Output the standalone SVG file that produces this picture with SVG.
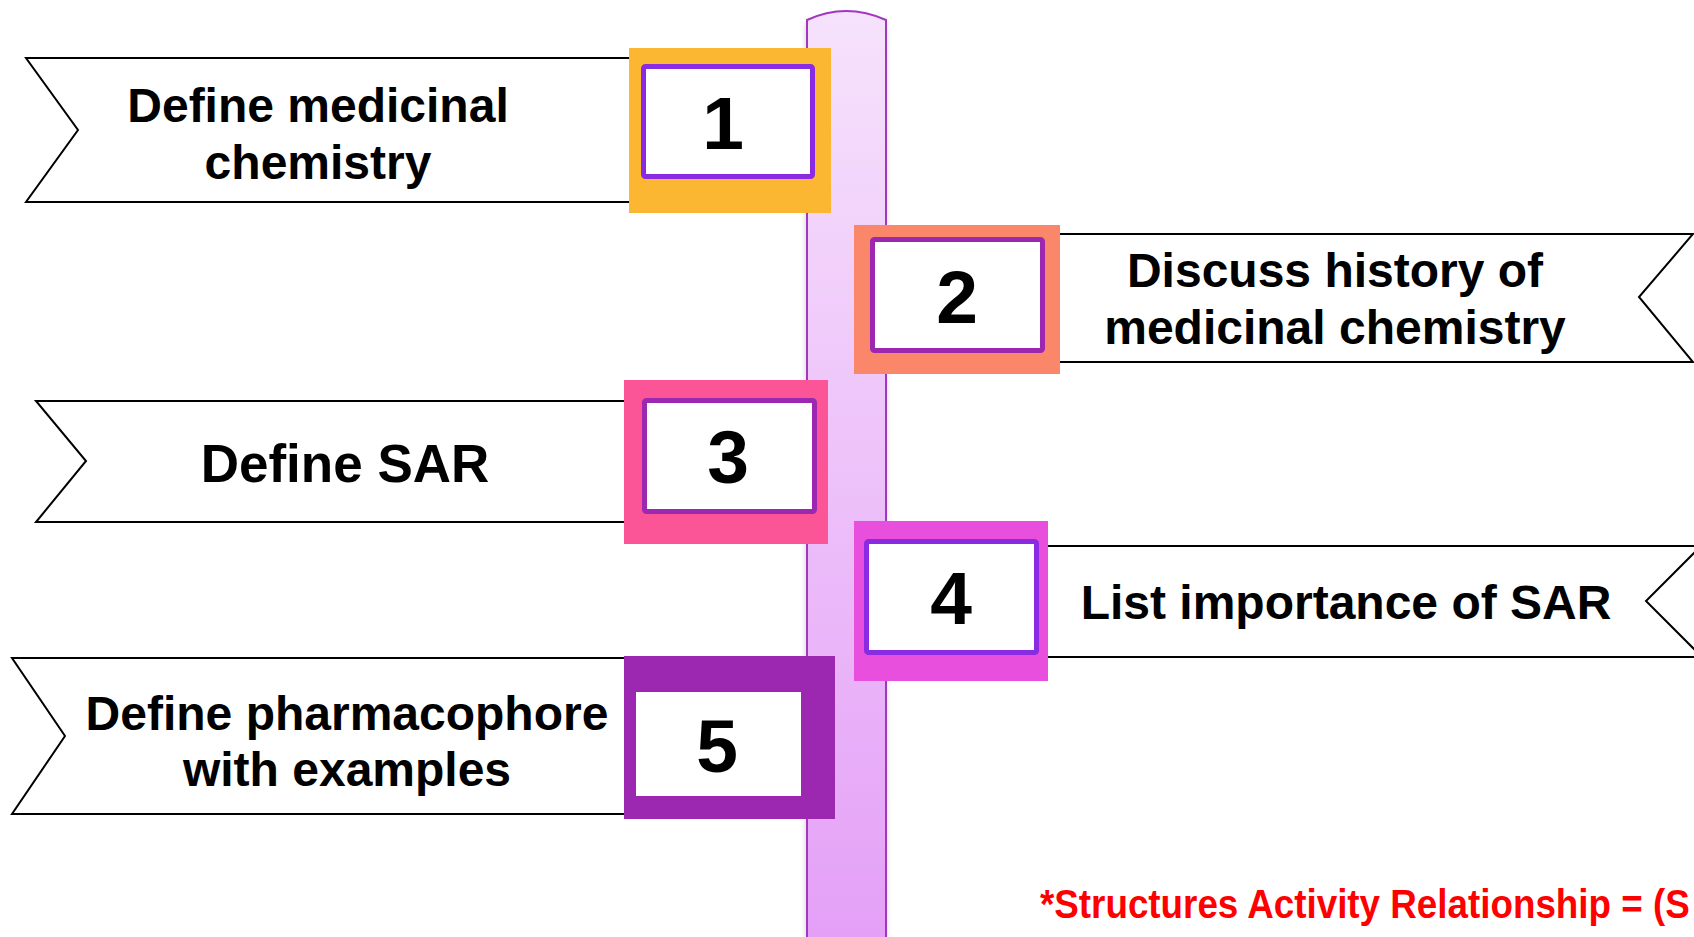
<svg xmlns="http://www.w3.org/2000/svg" width="1694" height="937" viewBox="0 0 1694 937">
<defs>
<linearGradient id="pillarGrad" x1="0" y1="0" x2="0" y2="1">
<stop offset="0" stop-color="#F6E2FC"/>
<stop offset="1" stop-color="#E4A0F7"/>
</linearGradient>
<filter id="shadow" x="-20%" y="-5%" width="140%" height="110%">
<feGaussianBlur stdDeviation="2.5"/>
</filter>
</defs>
<style>
.banner{fill:#FFFFFF;stroke:#000000;stroke-width:2;stroke-linejoin:miter}
.label{font-family:"Liberation Sans",Arial,sans-serif;font-weight:bold;font-size:48px;fill:#000000;text-anchor:middle}
.num{font-family:"Liberation Sans",Arial,sans-serif;font-weight:bold;font-size:75px;fill:#000000;text-anchor:middle}
.inner{fill:#FFFFFF;stroke-width:5}
.note{font-family:"Liberation Sans",Arial,sans-serif;font-weight:bold;font-size:40px;fill:#FF0000}
</style>
<rect width="1694" height="937" fill="#FFFFFF"/>
<g id="banners">
<g id="banner1"><polygon class="banner" points="26,58 700,58 700,202 26,202 78,130"/></g>
<g id="banner2"><polygon class="banner" points="1000,234 1693,234 1639,297 1693,362 1000,362"/></g>
<g id="banner3"><polygon class="banner" points="36,401 700,401 700,522 36,522 86,461"/></g>
<g id="banner4"><polygon class="banner" points="1000,546 1701,546 1646,601 1702,657 1000,657"/></g>
<g id="banner5"><polygon class="banner" points="12,658 700,658 700,814 12,814 65,736"/></g>
</g>
<g id="pillar">
<path d="M805,24 Q846,4 887,24 L887,940 L805,940 Z" fill="#999" opacity="0.35" filter="url(#shadow)"/>
<path d="M807,20 Q846,2 886,20 L886,940 L807,940 Z" fill="url(#pillarGrad)" stroke="#A236BE" stroke-width="2"/>
</g>
<g id="node1">
<rect x="629" y="48" width="202" height="165" fill="#FBB731"/>
<rect class="inner" x="643.5" y="66.5" width="169" height="110" rx="2" stroke="#8A2BE2"/>
<text class="num" x="723" y="149">1</text>
<text class="label" x="318" y="122">Define medicinal</text>
<text class="label" x="318" y="179">chemistry</text>
</g>
<g id="node2">
<rect x="854" y="225" width="206" height="149" fill="#FA8769"/>
<rect class="inner" x="872.5" y="239.5" width="170" height="111" rx="2" stroke="#9C27B0"/>
<text class="num" x="957" y="323">2</text>
<text class="label" x="1335" y="287">Discuss history of</text>
<text class="label" x="1335" y="344">medicinal chemistry</text>
</g>
<g id="node3">
<rect x="624" y="380" width="204" height="164" fill="#FB5597"/>
<rect class="inner" x="644.5" y="400.5" width="170" height="111" rx="2" stroke="#9C27B0"/>
<text class="num" x="728" y="483">3</text>
<text class="label" x="345" y="482" style="font-size:53px">Define SAR</text>
</g>
<g id="node4">
<rect x="854" y="521" width="194" height="160" fill="#E94FDD"/>
<rect class="inner" x="866.5" y="541.5" width="170" height="111" rx="2" stroke="#8A2BE2"/>
<text class="num" x="951" y="624">4</text>
<text class="label" x="1346" y="619">List importance of SAR</text>
</g>
<g id="node5">
<rect x="624" y="656" width="211" height="163" fill="#9C27B0"/>
<rect x="636" y="692" width="165" height="104" fill="#FFFFFF"/>
<text class="num" x="717" y="772">5</text>
<text class="label" x="347" y="730">Define pharmacophore</text>
<text class="label" x="347" y="786">with examples</text>
</g>
<g id="connectors"></g>
<text class="note" transform="translate(1040,918) scale(0.92,1)">*Structures Activity Relationship = (S</text>
</svg>
